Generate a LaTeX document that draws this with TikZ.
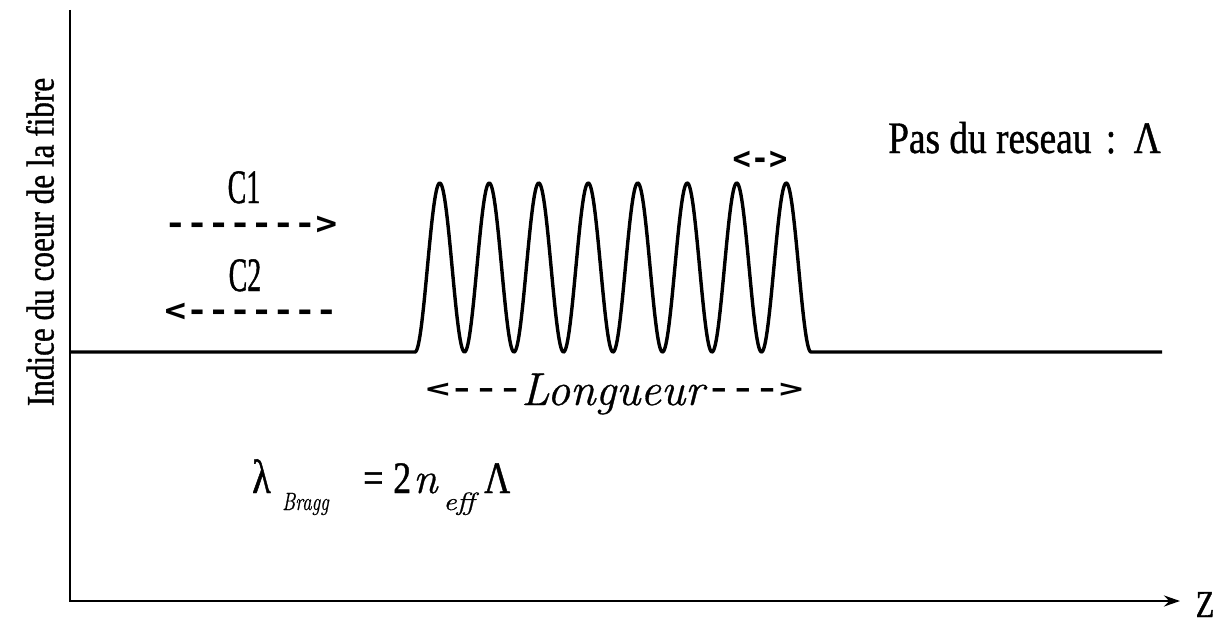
\documentclass[tikz,border=0pt]{standalone}
\usepackage{fontspec}
\usetikzlibrary{arrows.meta}
\newfontfamily\cf[FakeStretch=0.8,FakeBold=0.9]{Liberation Serif}
\newfontfamily\cfw[FakeStretch=0.83,FakeBold=0.9]{Liberation Serif}
\newfontfamily\cfn[FakeStretch=0.58,FakeBold=0.9]{Liberation Serif}
\newfontfamily\lmi[FakeBold=0.7]{Latin Modern Roman}
\newfontfamily\af{DejaVu Sans Mono}
\begin{document}
\begin{tikzpicture}[x=1pt,y=-1pt,
  txt/.style={inner sep=0pt, font=\cf\fontsize{45}{50}\selectfont},
  ylab/.style={inner sep=0pt, font=\cf\fontsize{39}{44}\selectfont},
  clab/.style={inner sep=0pt, font=\cfn\fontsize{48}{50}\selectfont},
  subtxt/.style={inner sep=0pt, font=\lmi\itshape\fontsize{25}{27}\selectfont},
  arrtxt/.style={inner sep=0pt, font=\af\bfseries\fontsize{#1}{#1}\selectfont},
  axis/.style={line width=2.6pt},
  curve/.style={line width=3.4pt, line join=round}]
\useasboundingbox (0,0) rectangle (1220,626);
% axes
\coordinate (ytop) at (70,10);
\coordinate (orig) at (70,601);
\coordinate (xend) at (1180,601);
\draw[axis, -{Stealth[length=16pt,width=11pt]}] (ytop) -- (orig) -- (xend);
\node[txt, font=\cf\fontsize{38}{40}\selectfont, anchor=base] (zlab) at (1205,617) {Z};
\node[ylab, rotate=90] (ylabel) at (40,242) {Indice du coeur de la fibre};
% index profile
\coordinate (b0) at (70,352);
\coordinate (g0) at (415,352);
\coordinate (b1) at (1162,352);
\draw[curve] (b0) -- (g0) -- plot[domain=0:8, samples=481] ({415+49.5*\x},{352-84.5*(1-cos(360*\x))}) -- (b1);
% labels
\node[inner sep=0pt, font=\cfw\fontsize{45}{50}\selectfont, anchor=base west] (pas) at (888,153) {Pas du reseau\hspace{5pt} :\hspace{5pt} Λ};
\node[arrtxt=32] (pasarr) at (760,160) {\scalebox{0.95}[1]{<->}};
\node[clab, anchor=base] (c1) at (244,203) {C1};
\node[arrtxt=32] (c1arr) at (251,225) {\scalebox{1.12}[1]{------->}};
\node[clab, anchor=base] (c2) at (245,291) {C2};
\node[arrtxt=32] (c2arr) at (251,312) {\scalebox{1.12}[1]{<-------}};
\node[arrtxt=25] (lgl) at (474,390) {\scalebox{1.6}[1]{<---}};
\node[inner sep=0pt, font=\lmi\itshape\fontsize{46}{50}\selectfont, anchor=base west] (long) at (521,405) {Longueur};
\node[arrtxt=25] (lgr) at (755,390) {\scalebox{1.6}[1]{--->}};
% Bragg formula
\node[txt, font=\cf\fontsize{48}{50}\selectfont, anchor=base west] (lam) at (252,493) {λ};
\node[subtxt, anchor=base west] (bragg) at (282,510) {\scalebox{0.76}[1]{Bragg}};
\node[txt, anchor=base west] (eq) at (363,493) {=};
\node[txt, anchor=base west] (two) at (393,493) {2};
\node[inner sep=0pt, font=\lmi\itshape\fontsize{44}{46}\selectfont, anchor=base west] (nn) at (413,493) {n};
\node[subtxt, anchor=base west] (eff) at (443,510) {\scalebox{1.2}[1]{eff}};
\node[txt, anchor=base west] (Lam) at (484,493) {Λ};
\end{tikzpicture}
\end{document}
